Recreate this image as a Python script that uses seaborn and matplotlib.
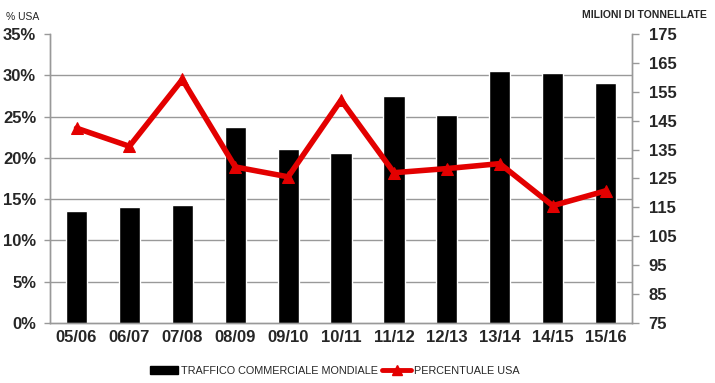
import matplotlib
matplotlib.use("Agg")
import matplotlib.pyplot as plt
from matplotlib.patches import Patch
from matplotlib.lines import Line2D
import seaborn as sns
import numpy as np

seasons = ['05/06', '06/07', '07/08', '08/09', '09/10', '10/11',
           '11/12', '12/13', '13/14', '14/15', '15/16']
# milioni di tonnellate (asse destro)
traffico = [113.9, 115.0, 115.8, 142.9, 135.1, 133.9, 153.5, 146.9, 162.3, 161.4, 158.1]
# % USA (asse sinistro)
perc_usa = [23.6, 21.4, 29.5, 18.9, 17.7, 27.0, 18.2, 18.7, 19.3, 14.2, 16.0]

pct_ticks = [0, 5, 10, 15, 20, 25, 30, 35]
ton_ticks = [75, 85, 95, 105, 115, 125, 135, 145, 155, 165, 175]

sns.set_style("white")
plt.rcParams['font.family'] = ['Liberation Sans', 'DejaVu Sans']

grid_col = '#999999'
red = '#e30000'

fig = plt.figure(figsize=(7.15, 3.83), dpi=100)
ax = fig.add_axes([0.070, 0.157, 0.814, 0.754])   # percent axis (line)
ax2 = ax.twinx()                                  # tonnes axis (bars)

# bars on the right axis, drawn below the line
sns.barplot(x=seasons, y=traffico, color='black', width=0.4, saturation=1,
            ax=ax2, zorder=2)
ax2.set_ylim(ton_ticks[0], ton_ticks[-1])
ax2.set_yticks(ton_ticks)
ax2.set_yticklabels([str(t) for t in ton_ticks], fontsize=12, fontweight='bold')
ax2.set_ylabel('')

# gridlines follow the percent ticks, drawn in the bar axis behind the bars
lo1, hi1 = pct_ticks[0], pct_ticks[-1]
lo2, hi2 = ton_ticks[0], ton_ticks[-1]
grid_pos = [lo2 + (p - lo1) / (hi1 - lo1) * (hi2 - lo2) for p in pct_ticks]
ax2.set_yticks(grid_pos, minor=True)
ax2.grid(which='minor', axis='y', color=grid_col, linewidth=1, zorder=0)
ax2.grid(which='major', visible=False)
ax2.tick_params(axis='y', which='minor', length=0)
ax2.tick_params(axis='y', which='major', length=5, width=1, color=grid_col,
                direction='out', pad=7)
ax2.set_axisbelow(True)

# line on the percent axis
ax.set_zorder(ax2.get_zorder() + 1)
ax.patch.set_visible(False)
sns.lineplot(x=np.arange(len(seasons)), y=perc_usa, color=red, linewidth=4,
             marker='^', markersize=9, markeredgecolor=red, ax=ax)
ax.set_ylim(lo1, hi1)
ax.set_yticks(pct_ticks)
ax.set_yticklabels([f'{p}%' for p in pct_ticks], fontsize=12, fontweight='bold')
ax.tick_params(axis='y', length=4, width=1, color=grid_col, direction='out', pad=6)

ax.set_xlim(-0.5, len(seasons) - 0.5)
ax.set_xticks(np.arange(len(seasons)))
ax.set_xticklabels(seasons, fontsize=12, fontweight='bold')
ax.set_xticks(np.arange(len(seasons) + 1) - 0.5, minor=True)
ax.tick_params(axis='x', which='major', length=0, pad=5)
ax.tick_params(axis='x', which='minor', length=5, width=1, color=grid_col, direction='out')
ax2.tick_params(axis='x', which='both', length=0)

for a in (ax, ax2):
    a.spines['top'].set_visible(False)
    for s in ('left', 'right', 'bottom'):
        a.spines[s].set_color(grid_col)
        a.spines[s].set_linewidth(1)

fig.text(0.008, 0.955, '% USA', fontsize=7.5, ha='left', va='center')
fig.text(0.988, 0.962, 'MILIONI DI TONNELLATE', fontsize=7.5, ha='right',
         va='center', fontweight='bold')

handles = [Patch(facecolor='black', edgecolor='black'),
           Line2D([0], [0], color=red, linewidth=3.5, marker='^', markersize=7)]
fig.legend(handles, ['TRAFFICO COMMERCIALE MONDIALE', 'PERCENTUALE USA'],
           loc='center', bbox_to_anchor=(0.468, 0.032), ncol=2, frameon=False,
           fontsize=7.8, handlelength=2.6, handletextpad=0.3, columnspacing=0.4)

fig.savefig('out.png', dpi=100)
